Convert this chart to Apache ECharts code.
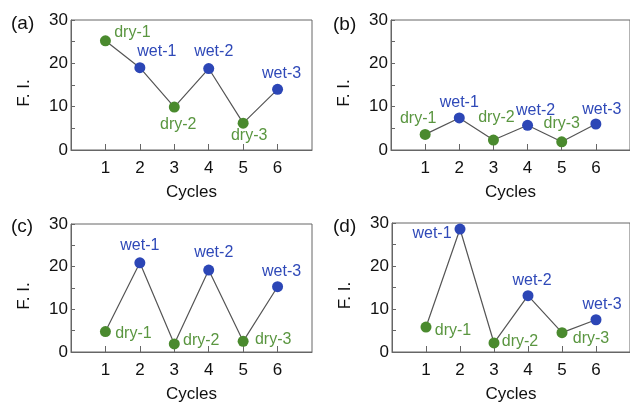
<!DOCTYPE html>
<html>
<head>
<meta charset="utf-8">
<script src="https://cdn.jsdelivr.net/npm/echarts@6/dist/echarts.min.js"></script>
<style>html,body{margin:0;padding:0;background:#fff;}#c{width:630px;height:404px;}</style>
</head>
<body>
<div id="c"></div>
<script>
// ---- data ----
const cycles = [1, 2, 3, 4, 5, 6];
const pointNames = ['dry-1', 'wet-1', 'dry-2', 'wet-2', 'dry-3', 'wet-3'];
const fiA = [25.2, 19.0, 9.9, 18.8, 6.2, 14.0];
const fiB = [3.6, 7.4, 2.3, 5.7, 1.9, 6.0];
const fiC = [4.8, 20.9, 1.9, 19.2, 2.5, 15.3];
const fiD = [5.8, 28.6, 2.1, 13.1, 4.5, 7.5];
const panelNames = ['(a)', '(b)', '(c)', '(d)'];
const yTicks = [0, 10, 20, 30];
const xTicks = [1, 2, 3, 4, 5, 6];

// ---- layout / style ----
const FONT = 'Liberation Sans, Arial, sans-serif';
const GREEN = '#4a8a2e';
const BLUE = '#2c46b6';
const GREEN_TXT = '#5a9640';
const BLUE_TXT = '#2f49b8';
const AXIS = '#666';
const grids = [
  {left: 71, top: 20, width: 241, height: 130},
  {left: 391, top: 20, width: 241, height: 130},
  {left: 71, top: 224, width: 241, height: 130},
  {left: 392, top: 223, width: 241, height: 130}
];
const labelOffsets = [
  [[27, -8], [17, -16], [4, 17], [5, -17], [6, 12], [4, -16]],
  [[-7, -16], [0, -15], [3, -22], [8, -15], [0, -18], [6, -14]],
  [[28, 2], [0, -17], [27, -3], [5, -17], [30, -2], [4, -15]],
  [[27, 4], [-28, 5], [26, -1], [4, -15], [29, 6], [6, -15]]
];
const panelPos = [[6, 9], [328, 10], [6, 212], [328, 212]];
const allData = [fiA, fiB, fiC, fiD];

const option = {
  animation: false,
  backgroundColor: '#fff',
  textStyle: {fontFamily: FONT},
  title: panelNames.map((t, i) => ({
    text: t, left: panelPos[i][0], top: panelPos[i][1],
    textStyle: {fontFamily: FONT, fontSize: 19, fontWeight: 'normal', color: '#111'}
  })),
  grid: grids.map(g => Object.assign({show: true, borderColor: AXIS, borderWidth: 1, backgroundColor: 'transparent'}, g)),
  xAxis: grids.map((g, i) => ({
    type: 'value', gridIndex: i, min: 0, max: 7, interval: 1,
    name: 'Cycles', nameLocation: 'middle', nameGap: 34,
    nameTextStyle: {fontFamily: FONT, fontSize: 17, color: '#111'},
    axisLine: {show: true, lineStyle: {color: AXIS, width: 1}},
    axisTick: {show: true, inside: true, length: 6, lineStyle: {color: AXIS},
      customValues: xTicks},
    axisLabel: {fontFamily: FONT, fontSize: 17, color: '#111', margin: 10,
      customValues: xTicks},
    splitLine: {show: false}
  })),
  yAxis: grids.map((g, i) => ({
    type: 'value', gridIndex: i, min: 0, max: 30, interval: 5,
    name: 'F. I.', nameLocation: 'middle', nameGap: 38, nameRotate: 90,
    nameTextStyle: {fontFamily: FONT, fontSize: 17, color: '#111', padding: [0, 16, 0, 0]},
    axisLine: {show: true, lineStyle: {color: AXIS, width: 1}},
    axisTick: {show: true, inside: true, length: 4, lineStyle: {color: AXIS}},
    axisLabel: {fontFamily: FONT, fontSize: 17, color: '#111', margin: 3,
      formatter: v => (yTicks.indexOf(v) >= 0 ? String(v) : '')},
    splitLine: {show: false}
  })),
  series: allData.map((vals, i) => ({
    type: 'line', xAxisIndex: i, yAxisIndex: i,
    symbol: 'circle', symbolSize: 11,
    lineStyle: {color: '#555', width: 1.2},
    data: cycles.map((c, j) => {
      const dry = pointNames[j].indexOf('dry') === 0;
      return {
        value: [c, vals[j]],
        itemStyle: {color: dry ? GREEN : BLUE},
        label: {
          show: true, formatter: pointNames[j], position: 'inside',
          offset: labelOffsets[i][j], align: 'center', verticalAlign: 'middle',
          fontFamily: FONT, fontSize: 16, color: dry ? GREEN_TXT : BLUE_TXT
        }
      };
    })
  }))
};
const chart = echarts.init(document.getElementById('c'), null, {renderer: 'canvas'});
chart.setOption(option);
</script>
</body>
</html>
